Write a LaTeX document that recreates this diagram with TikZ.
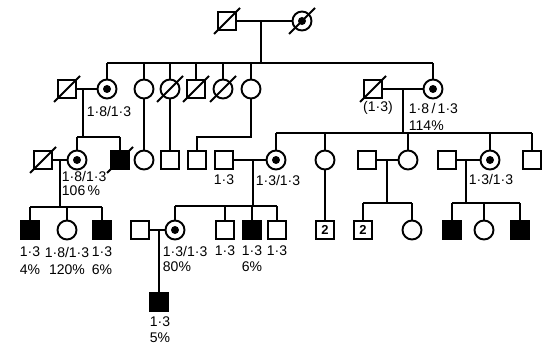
\documentclass[tikz,border=0pt]{standalone}
\usepackage{fontspec}
\setmainfont{Liberation Sans}
\usetikzlibrary{positioning}
\newcommand{\deadmark}[1]{\draw ([shift={(-13pt,-13pt)}]#1.center) -- ([shift={(13pt,13pt)}]#1.center);}

\begin{document}
\begin{tikzpicture}[
  x=1pt, y=-1pt,
  line width=1.9pt,
  male/.style={draw, minimum size=18pt, inner sep=0pt},
  female/.style={draw, circle, minimum size=19pt, inner sep=0pt},
  affected/.style={male, fill=black},
  carrier/.style={female, path picture={\fill (path picture bounding box.center) circle (4pt);}},
  numbered/.style={male, font=\bfseries\fontsize{13}{13}\selectfont},
  info/.style={inner sep=0pt, font=\fontsize{14}{14}\selectfont}
]
  \useasboundingbox (0,0) rectangle (546,350);

  % generation I
  \node[male] (gf) at (227,21) {};
  \node[carrier] (gm) at (302,21) {};
  \deadmark{gf} \deadmark{gm}
  \draw (gf) -- (gm);
  \coordinate (m1) at (261,21);
  \coordinate (sib2l) at (107,63);
  \coordinate (sib2r) at (433,63);
  \draw (m1) -- (m1 |- sib2l);
  \draw (sib2l) -- (sib2r);

  % generation II
  \node[male] (h1) at (67,89) {};
  \node[carrier] (c1) at (107,89) {};
  \node[female] (c2) at (144,89) {};
  \node[female] (c3) at (170,89) {};
  \node[male] (s4) at (196,89) {};
  \node[female] (c5) at (223,89) {};
  \node[female] (c6) at (251,89) {};
  \node[male] (h2) at (373,89) {};
  \node[carrier] (c7) at (433,89) {};
  \deadmark{h1} \deadmark{c3} \deadmark{s4} \deadmark{c5} \deadmark{h2}
  \foreach \n in {c1,c2,c3,s4,c5,c6,c7}
    \draw (\n) -- (\n |- sib2l);

  \draw (h1) -- (c1);
  \coordinate (m2) at (83,89);
  \coordinate (sib3a) at (77,137);
  \coordinate (sib3b) at (120,137);
  \draw (m2) -- (m2 |- sib3a);
  \draw (sib3a) -- (sib3b);

  \draw (h2) -- (c7);
  \coordinate (m3) at (403,89);
  \coordinate (sib3l) at (276,133);
  \coordinate (sib3r) at (532,133);
  \draw (m3) -- (m3 |- sib3l);
  \draw (sib3l) -- (sib3r);

  \node[info] (t1) at (109,111) {1·8/1·3};
  \node[info] (t2) at (378,108) {(1·3)};
  \node[info, anchor=west] (t3) at (408,108) {1·8\,/\,1·3};
  \node[info, anchor=west] (t4) at (408,126) {114\%};

  % generation III
  \node[male] (a1) at (43,160) {};
  \node[carrier] (a2) at (77,160) {};
  \node[affected] (a3) at (120,160) {};
  \deadmark{a1} \deadmark{a3}
  \draw (a2) -- (a2 |- sib3a);
  \draw (a3) -- (a3 |- sib3a);
  \draw (a1) -- (a2);

  \node[female] (b1) at (144,160) {};
  \node[male] (b2) at (170,160) {};
  \node[male] (b3) at (197,160) {};
  \node[male] (b4) at (224,160) {};
  \node[carrier] (b5) at (276,160) {};
  \node[female] (b6) at (325,160) {};
  \node[male] (b7) at (367,160) {};
  \node[female] (b8) at (408,160) {};
  \node[male] (b9) at (447,160) {};
  \node[carrier] (b10) at (490,160) {};
  \node[male] (b11) at (532,160) {};
  \draw (c2) -- (b1);
  \draw (c3) -- (b2);
  \coordinate (k6) at (251,137);
  \draw (c6) -- (k6) -| (b3);
  \foreach \n in {b5,b6,b8,b10,b11}
    \draw (\n) -- (\n |- sib3l);
  \draw (b4) -- (b5);
  \draw (b7) -- (b8);
  \draw (b9) -- (b10);

  \node[info, anchor=west] (t5) at (61,176) {1·8/1·3};
  \node[info, anchor=west] (t6) at (61,191) {106\,\%};
  \node[info] (t7) at (224,180) {1·3};
  \node[info] (t8) at (278,180) {1·3/1·3};
  \node[info] (t9) at (491,179) {1·3/1·3};

  % generation IV
  \coordinate (m4) at (60,160);
  \coordinate (sib4a) at (30,207);
  \coordinate (sib4b) at (102,207);
  \draw (m4) -- (m4 |- sib4a);
  \draw (sib4a) -- (sib4b);
  \node[affected] (d1) at (30,230) {};
  \node[female] (d2) at (67,230) {};
  \node[affected] (d3) at (102,230) {};
  \foreach \n in {d1,d2,d3}
    \draw (\n) -- (\n |- sib4a);

  \coordinate (m5) at (253,160);
  \coordinate (sib4c) at (175,206);
  \coordinate (sib4d) at (277,206);
  \draw (m5) -- (m5 |- sib4c);
  \draw (sib4c) -- (sib4d);
  \node[male] (e1) at (140,230) {};
  \node[carrier] (e2) at (175,230) {};
  \node[male] (e3) at (225,230) {};
  \node[affected] (e4) at (252,230) {};
  \node[male] (e5) at (277,230) {};
  \foreach \n in {e2,e3,e4,e5}
    \draw (\n) -- (\n |- sib4c);
  \draw (e1) -- (e2);

  \node[numbered] (f1) at (325,230) {2};
  \draw (b6) -- (f1);
  \coordinate (m6) at (387,160);
  \coordinate (sib4e) at (363,203);
  \coordinate (sib4f) at (412,203);
  \draw (m6) -- (m6 |- sib4e);
  \draw (sib4e) -- (sib4f);
  \node[numbered] (f2) at (363,230) {2};
  \node[female] (f3) at (412,230) {};
  \foreach \n in {f2,f3}
    \draw (\n) -- (\n |- sib4e);

  \coordinate (m7) at (466,160);
  \coordinate (sib4g) at (452,203);
  \coordinate (sib4h) at (520,203);
  \draw (m7) -- (m7 |- sib4g);
  \draw (sib4g) -- (sib4h);
  \node[affected] (g1) at (452,230) {};
  \node[female] (g2) at (484,230) {};
  \node[affected] (g3) at (520,230) {};
  \foreach \n in {g1,g2,g3}
    \draw (\n) -- (\n |- sib4g);

  \node[info] (u1) at (30,252) {1·3};
  \node[info] (u2) at (30,270) {4\%};
  \node[info] (u3) at (67,252) {1·8/1·3};
  \node[info] (u4) at (67,270) {120\%};
  \node[info] (u5) at (102,252) {1·3};
  \node[info] (u6) at (102,270) {6\%};
  \node[info, anchor=west] (u7) at (162,251) {1·3/1·3};
  \node[info, anchor=west] (u8) at (162,267) {80\%};
  \node[info] (u9) at (225,251) {1·3};
  \node[info] (u10) at (252,251) {1·3};
  \node[info] (u11) at (252,267) {6\%};
  \node[info] (u12) at (277,251) {1·3};

  % generation V
  \coordinate (m8) at (159,230);
  \node[affected] (v1) at (159,302) {};
  \draw (m8) -- (v1);
  \node[info] (w1) at (160,322) {1·3};
  \node[info] (w2) at (160,338) {5\%};
\end{tikzpicture}
\end{document}
